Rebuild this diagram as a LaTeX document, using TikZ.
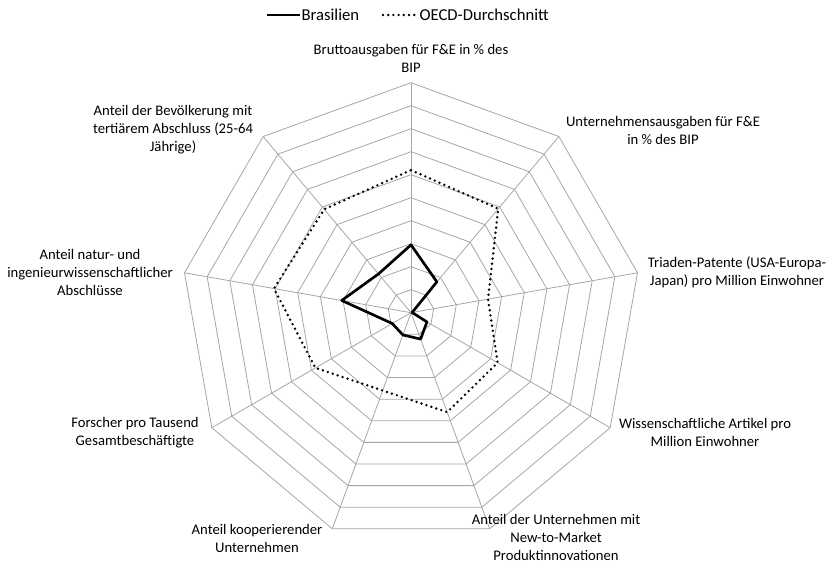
\documentclass[tikz,border=0pt]{standalone}
\usepackage{fontspec}
\setmainfont{Carlito}
\usetikzlibrary{positioning}

\begin{document}
\begin{tikzpicture}[x=0.75pt, y=0.75pt,
	ring/.style={draw=black!35, line width=0.6pt},
	brasil/.style={line width=2pt, line join=round},
	oecd/.style={line width=2pt, dash pattern=on 0pt off 3.9pt, line cap=round},
	label/.style={align=center, inner sep=0pt, font=\fontsize{11}{13.5}\selectfont},
	legendtext/.style={anchor=west, inner sep=1pt, font=\fontsize{12.5}{14}\selectfont}]
	
	%%% Rahmen
	\useasboundingbox (0,0) rectangle (830,565);
	
	%%% Legende
	\coordinate (legA) at (267,550);
	\node[legendtext] (legBrasil) at (300,550) {Brasilien};
	\coordinate (legB) at (383,550);
	\node[legendtext] (legOecd) at (418,550) {OECD-Durchschnitt};
	\draw[brasil] (legA) -- (legBrasil.west);
	\draw[oecd] (legB) -- ([xshift=-2pt]legOecd.west);
	
	%%% Netz
	\begin{scope}[shift={(411,252.3)}]
		\foreach \r in {1,...,10}
		\draw[ring] (90:\r*23) \foreach \k in {1,...,8} { -- ({90-40*\k}:\r*23) } -- cycle;
		\foreach \k in {0,...,8}
		\draw[ring] (0,0) -- ({90-40*\k}:230);
		
		%%% Daten
		\draw[oecd] (90:6.2*23) -- (50:5.9*23) -- (10:3.4*23) -- (-30:4.35*23) -- (-70:4.6*23)
			-- (-110:3.6*23) -- (-150:4.8*23) -- (170:6.05*23) -- (130:5.87*23) -- cycle;
		\draw[brasil] (90:2.95*23) -- (50:1.75*23) -- (10:0.05*23) -- (-30:0.8*23) -- (-70:1.22*23)
			-- (-110:1.03*23) -- (-150:0.94*23) -- (170:3.06*23) -- (130:2.2*23) -- cycle;
	\end{scope}
	
	%%% Achsenbeschriftungen
	\node[label] (lab0) at (411,506.5) {Bruttoausgaben für F\&E in \% des\\BIP};
	\node[label] (lab1) at (663,435) {Unternehmensausgaben für F\&E\\in \% des BIP};
	\node[label] (lab2) at (737,292.5) {Triaden-Patente (USA-Europa-\\Japan) pro Million Einwohner};
	\node[label] (lab3) at (705,133) {Wissenschaftliche Artikel pro\\Million Einwohner};
	\node[label] (lab4) at (556,28) {Anteil der Unternehmen mit\\New-to-Market\\Produktinnovationen};
	\node[label] (lab5) at (257,27) {Anteil kooperierender\\Unternehmen};
	\node[label] (lab6) at (135,132.5) {Forscher pro Tausend\\Gesamtbeschäftigte};
	\node[label] (lab7) at (90,292.5) {Anteil natur- und\\ingenieurwissenschaftlicher\\Abschlüsse};
	\node[label] (lab8) at (173,435) {Anteil der Bevölkerung mit\\tertiärem Abschluss (25-64\\Jährige)};
\end{tikzpicture}
\end{document}
